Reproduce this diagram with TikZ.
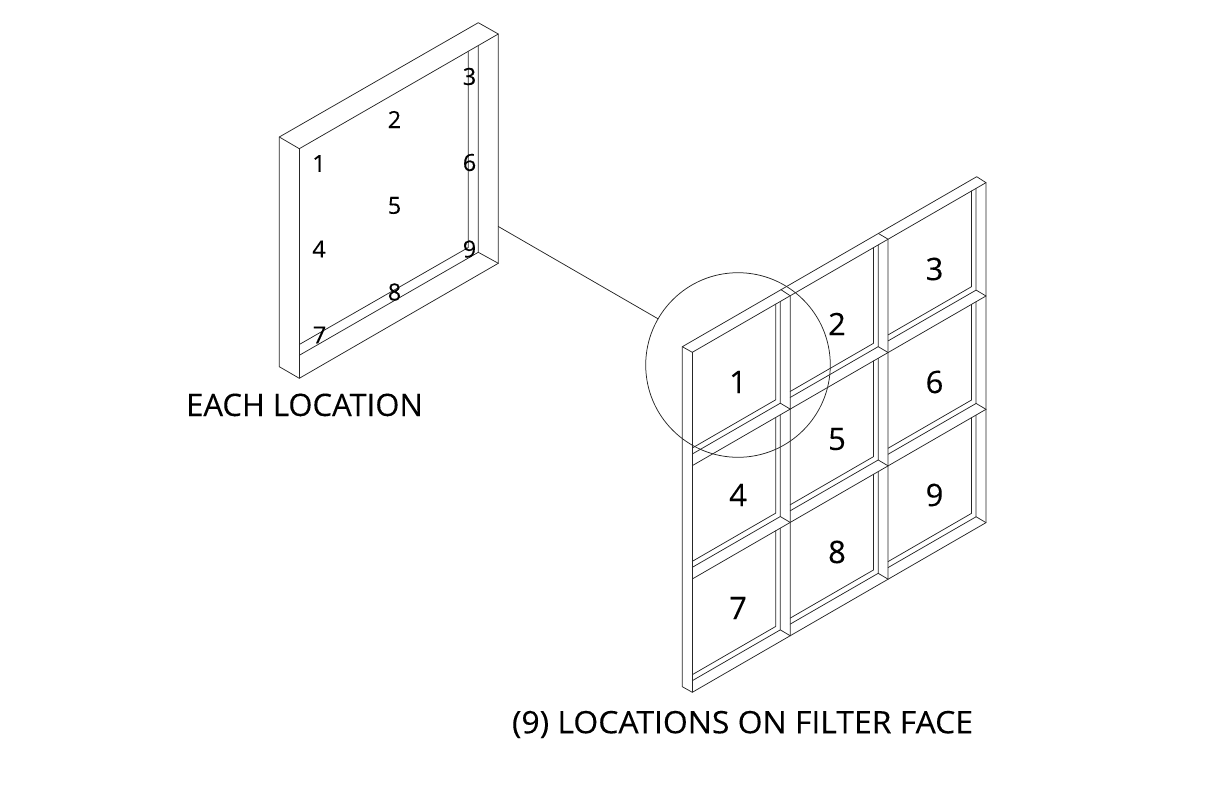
\documentclass[tikz,border=0pt]{standalone}
\usepackage{fontspec}
\setmainfont{Open Sans}
\newfontfamily\stretchfont[FakeStretch=1.03,FakeBold=0.15]{Open Sans}
\newfontfamily\plainfont[FakeBold=0.15]{Open Sans}
\newcommand{\titlefont}{\plainfont\fontsize{31}{34}\selectfont}
\newcommand{\widetitlefont}{\stretchfont\fontsize{31}{34}\selectfont}
\newcommand{\smallfont}{\plainfont\fontsize{23.5}{26}\selectfont}
\newcommand{\bigfont}{\plainfont\fontsize{31}{34}\selectfont}
\tikzset{
  x=1pt,y=-1pt,
  edge/.style={draw=black!85,line width=0.75pt,line join=round,line cap=round},
  smalldigit/.style={inner sep=0pt,font=\smallfont,text=black},
  bigdigit/.style={inner sep=0pt,font=\bigfont,text=black},
  caption/.style={inner sep=0pt,anchor=base,font=\titlefont,text=black},
  widecaption/.style={inner sep=0pt,anchor=base,font=\widetitlefont,text=black},
  loupe/.style={circle,draw=black!85,line width=0.75pt,minimum size=184.6pt,inner sep=0pt,outer sep=0pt}
}
\begin{document}
\begin{tikzpicture}
\useasboundingbox (0,0) rectangle (1224,792);
% ---------- single location ----------
\draw[edge] (279.3,137)--(478.3,22.7)--(498.3,34)--(299.3,148.7)--cycle;
\draw[edge] (279.3,137)--(279.3,366.7)--(299.3,378.3)--(498.3,263.3)--(498.3,34);
\draw[edge] (299.3,148.7)--(299.3,378.3);
\draw[edge] (468.3,51.7)--(468.3,247.5)--(299.3,344.5);
\draw[edge] (478.3,45.7)--(478.3,252.3)--(299.3,355.3);
\draw[edge] (478.3,252.3)--(498.3,263.3);
% ---------- nine locations ----------
\draw[edge] (682.3,346.7)--(976.7,176.7)--(986,182.65)--(692.3,352.3)--cycle;
\draw[edge] (682.3,346.7)--(682.3,686.7)--(692.3,692.3)--(986,522.65)--(986,182.65);
\draw[edge] (692.3,352.3)--(692.3,692.3);
\draw[edge] (781,289.7)--(790.2,295.75)--(790.2,635.75);
\draw[edge] (878.4,233.5)--(888.1,239.2)--(888.1,579.2);
\foreach \c in {0,1,2}{
  \foreach \r in {0,1,2}{
    \pgfmathsetmacro{\ox}{692.3+97.9*\c}
    \pgfmathsetmacro{\oy}{352.3-56.55*\c+113.33*\r}
    % vertical jamb lines
    \draw[edge] ({\ox+83.4},{\oy-48.15})--({\ox+83.4},{\oy+47.5})--(\ox,{\oy+95.7});
    \draw[edge] ({\ox+88},{\oy-50.8})--({\ox+88},{\oy+50.9})--(\ox,{\oy+101.7});
    \draw[edge] ({\ox+88},{\oy+50.9})--({\ox+97.9},{\oy+56.78});
    % sill line
    \ifnum\r<2
      \draw[edge] (\ox,{\oy+113.33})--({\ox+97.9},{\oy+56.78});
    \fi
  }
}
% ---------- magnifier ----------
\node[loupe] (detail) at (738,365) {};
\coordinate (frameedge) at (498.3,226.5);
\draw[edge] (frameedge)--(detail);
% ---------- digits ----------
\foreach \t/\x/\y in {1/319/163.5,2/394.5/119.5,3/469.5/76.5,4/319/249,5/394.5/205.5,6/469.5/162.5,7/319.5/335,8/394.5/292,9/469.5/249}
  \node[smalldigit] (s\t) at (\x,\y) {\t};
\foreach \t/\x/\y in {1/738/382,2/837/324,3/934.5/269,4/738/495,5/837/439,6/934.5/382,7/738/608,8/837/552,9/934.5/495}
  \node[bigdigit] (b\t) at (\x,\y) {\t};
% ---------- captions ----------
\node[caption] (eachloc) at (304.5,416) {EACH LOCATION};
\node[widecaption] (nineloc) at (742.5,733.3) {(9) LOCATIONS ON FILTER FACE};
\end{tikzpicture}
\end{document}
